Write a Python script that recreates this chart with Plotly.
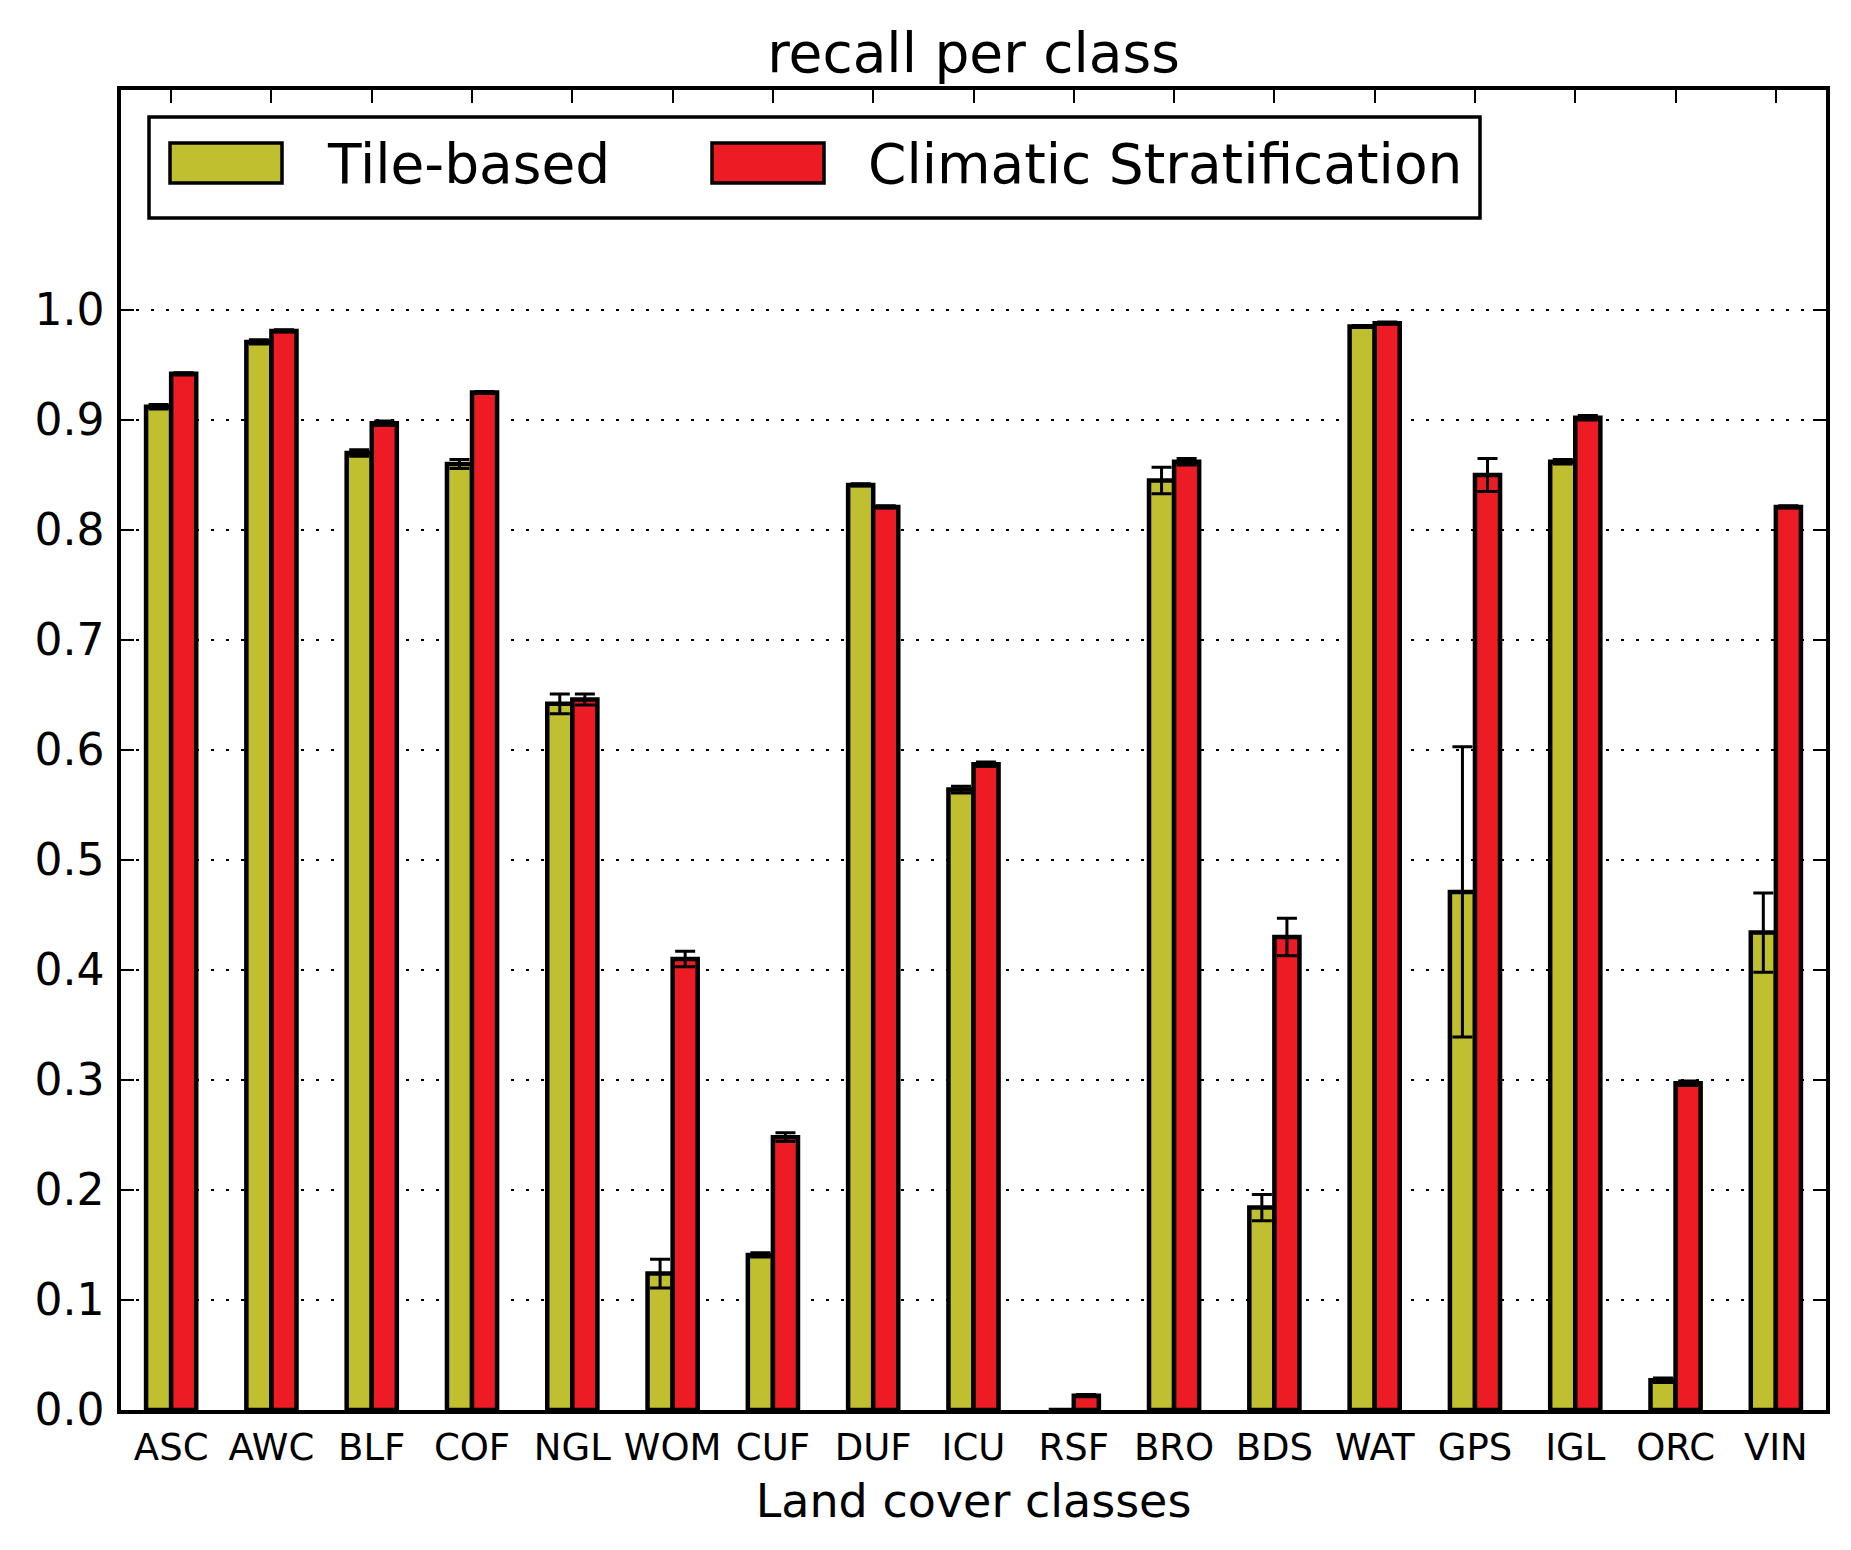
import plotly.graph_objects as go

# land cover classes on the x axis
classes = ['ASC', 'AWC', 'BLF', 'COF', 'NGL', 'WOM', 'CUF', 'DUF', 'ICU',
           'RSF', 'BRO', 'BDS', 'WAT', 'GPS', 'IGL', 'ORC', 'VIN']

# recall per class
tile_recall = [0.912, 0.971, 0.870, 0.860, 0.642, 0.124, 0.141, 0.841, 0.564,
               0.0, 0.845, 0.184, 0.985, 0.471, 0.862, 0.027, 0.434]
tile_err = [0.002, 0.002, 0.003, 0.004, 0.009, 0.013, 0.002, 0.001, 0.003,
            0.0, 0.012, 0.012, 0.001, 0.132, 0.002, 0.002, 0.036]

clim_recall = [0.942, 0.981, 0.897, 0.925, 0.646, 0.410, 0.248, 0.821, 0.587,
               0.013, 0.862, 0.430, 0.988, 0.850, 0.902, 0.297, 0.821]
clim_err = [0.001, 0.001, 0.002, 0.001, 0.005, 0.007, 0.004, 0.001, 0.002,
            0.001, 0.003, 0.017, 0.001, 0.015, 0.002, 0.002, 0.001]

y_ticks = [0.0, 0.1, 0.2, 0.3, 0.4, 0.5, 0.6, 0.7, 0.8, 0.9, 1.0]

TILE_COLOR = '#bfbf30'
CLIM_COLOR = '#ed1c24'
FONT = 'DejaVu Sans'

# the page body adds an 8px margin, so margins are shifted to compensate
PAGE_OFF = 8
W, H = 1851, 1550
L, R, T, B = 113, 33, 82, 148
plot_w = W - L - R
plot_h = H - T - B


def px_x(x):
    """page pixel x -> paper x"""
    return (x - PAGE_OFF - L) / plot_w


def px_y(y):
    """page pixel y (from top) -> paper y"""
    return (PAGE_OFF + H - B - y) / plot_h


fig = go.Figure()

fig.add_trace(go.Bar(
    x=classes, y=tile_recall, name='Tile-based',
    marker=dict(color=TILE_COLOR, line=dict(color='black', width=4.5)),
    error_y=dict(type='data', array=tile_err, color='black', thickness=3, width=10),
    offsetgroup='tile'
))
fig.add_trace(go.Bar(
    x=classes, y=clim_recall, name='Climatic Stratification',
    marker=dict(color=CLIM_COLOR, line=dict(color='black', width=4.5)),
    error_y=dict(type='data', array=clim_err, color='black', thickness=3, width=10),
    offsetgroup='clim'
))

# legend drawn by hand so the swatches get the big matplotlib look
shapes = [
    dict(type='rect', xref='paper', yref='paper',
         x0=px_x(149), x1=px_x(1480), y0=px_y(218), y1=px_y(117),
         line=dict(color='black', width=3.5), fillcolor='white', layer='above'),
    dict(type='rect', xref='paper', yref='paper',
         x0=px_x(170), x1=px_x(282), y0=px_y(183), y1=px_y(143),
         line=dict(color='black', width=3.5), fillcolor=TILE_COLOR, layer='above'),
    dict(type='rect', xref='paper', yref='paper',
         x0=px_x(712), x1=px_x(824), y0=px_y(183), y1=px_y(143),
         line=dict(color='black', width=3.5), fillcolor=CLIM_COLOR, layer='above'),
]
annotations = [
    dict(xref='paper', yref='paper', x=px_x(325), y=px_y(164),
         text='Tile-based', showarrow=False, xanchor='left', yanchor='middle',
         font=dict(family=FONT, size=55, color='black')),
    dict(xref='paper', yref='paper', x=px_x(866), y=px_y(164),
         text='Climatic Stratification', showarrow=False, xanchor='left', yanchor='middle',
         font=dict(family=FONT, size=55, color='black')),
]

fig.update_layout(
    width=W, height=H,
    margin=dict(l=L, r=R, t=T, b=B),
    paper_bgcolor='white', plot_bgcolor='white',
    barmode='group', bargap=0.5, bargroupgap=0,
    showlegend=False,
    shapes=shapes, annotations=annotations,
    font=dict(family=FONT, color='black'),
    title=dict(text='recall per class', x=0.5, xref='paper', xanchor='center',
               y=1 - 45 / H, yanchor='middle',
               font=dict(family=FONT, size=55, color='black')),
)

fig.update_xaxes(
    range=[-0.5, len(classes) - 0.5],
    showline=True, linecolor='black', linewidth=3.5, mirror='ticks',
    ticks='inside', ticklen=13, tickwidth=2, tickcolor='black',
    tickfont=dict(family=FONT, size=37, color='black'),
    ticklabelstandoff=2,
    showgrid=False, zeroline=False,
    title=dict(text='Land cover classes', standoff=18,
               font=dict(family=FONT, size=46, color='black')),
)
fig.update_yaxes(
    range=[0, 1.2],
    tickvals=y_ticks, ticktext=['%.1f' % v for v in y_ticks],
    showline=True, linecolor='black', linewidth=3.5, mirror='ticks',
    ticks='inside', ticklen=13, tickwidth=2, tickcolor='black',
    tickfont=dict(family=FONT, size=44, color='black'),
    ticklabelstandoff=4,
    showgrid=True, gridcolor='black', gridwidth=2, griddash='3px,12px',
    zeroline=False, layer='above traces',
)

fig.write_html('out.html')
